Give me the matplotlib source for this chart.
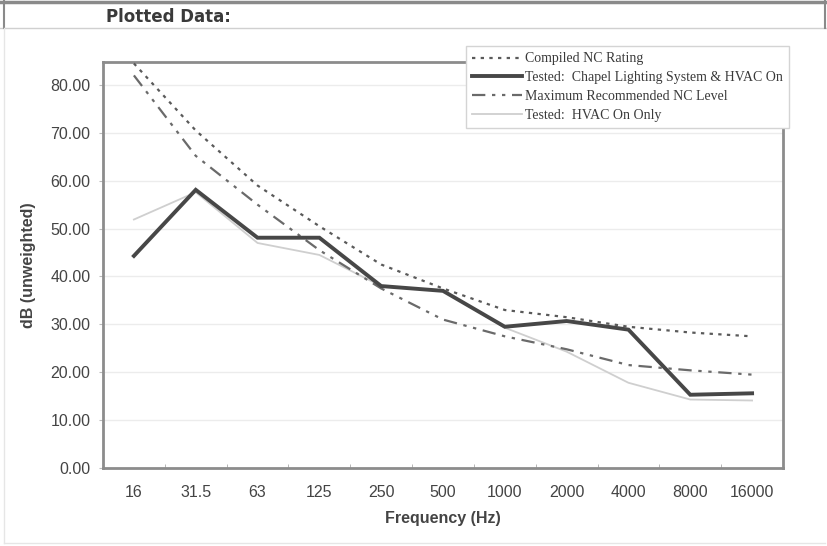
import matplotlib

matplotlib.use("Agg")
import matplotlib.pyplot as plt
from matplotlib.lines import Line2D


FREQ_LABELS = ["16", "31.5", "63", "125", "250", "500", "1000", "2000", "4000", "8000", "16000"]

# dB values
NC_COMPILED = [84.5, 70.5, 59.0, 50.5, 42.5, 37.5, 33.0, 31.5, 29.5, 28.3, 27.5]
CHAPEL_HVAC = [44.3, 58.1, 48.1, 48.1, 38.0, 37.0, 29.5, 30.7, 28.9, 15.3, 15.6]
NC_MAX = [82.0, 65.2, 55.0, 45.5, 37.5, 31.0, 27.5, 24.8, 21.5, 20.4, 19.5]
HVAC_ONLY = [51.9, 57.6, 47.0, 44.5, 38.0, 37.0, 29.3, 24.3, 17.8, 14.3, 14.1]

Y_TICKS = [0, 10, 20, 30, 40, 50, 60, 70, 80]

W, H = 828, 546


def main():
    fig = plt.figure(figsize=(W / 100, H / 100), dpi=100)
    fig.patch.set_facecolor("white")

    # page decoration around the chart
    fig.add_artist(Line2D([0, 1], [1 - 2 / H, 1 - 2 / H], color="#8a8a8a", lw=2.5))
    fig.add_artist(Line2D([0, 1], [1 - 28 / H, 1 - 28 / H], color="#d0d0d0", lw=1))
    fig.add_artist(Line2D([4 / W, 4 / W], [1 - 28 / H, 1], color="#8a8a8a", lw=1.5))
    fig.add_artist(Line2D([825 / W, 825 / W], [1 - 28 / H, 1], color="#8a8a8a", lw=1.5))
    fig.add_artist(Line2D([4 / W, 4 / W], [3 / H, 1 - 28 / H], color="#e6e6e6", lw=1))
    fig.add_artist(Line2D([4 / W, 825 / W], [3 / H, 3 / H], color="#e6e6e6", lw=1))
    fig.text(106 / W, 1 - 17 / H, "Plotted Data:", fontsize=12, fontweight="bold",
             color="#3a3a3a", va="center", ha="left", family="DejaVu Sans")

    ax = fig.add_axes([103 / W, 1 - 468 / H, 680 / W, 406 / H])
    x = list(range(len(FREQ_LABELS)))

    ax.plot(x, HVAC_ONLY, color="#cfcfcf", lw=1.3, label="Tested:  HVAC On Only", zorder=2)
    ax.plot(x, NC_MAX, color="#6a6a6a", lw=1.6, dashes=(6, 3, 1.5, 3, 1.5, 3),
            label="Maximum Recommended NC Level", zorder=3)
    ax.plot(x, NC_COMPILED, color="#5a5a5a", lw=1.6, dashes=(1.5, 2.4),
            label="Compiled NC Rating", zorder=3)
    ax.plot(x, CHAPEL_HVAC, color="#474747", lw=2.8, solid_joinstyle="miter",
            label="Tested:  Chapel Lighting System & HVAC On", zorder=4)

    ax.set_xlim(-0.5, len(FREQ_LABELS) - 0.5)
    ax.set_ylim(0, 84.8)
    ax.set_xticks(x)
    ax.set_xticklabels(FREQ_LABELS)
    ax.set_yticks(Y_TICKS)
    ax.set_yticklabels([f"{v:.2f}" for v in Y_TICKS])
    ax.set_xticks([i + 0.5 for i in x[:-1]], minor=True)
    ax.tick_params(axis="x", which="major", length=0, pad=12, labelsize=11.5, labelcolor="#444444")
    ax.tick_params(axis="x", which="minor", length=3, color="#aaaaaa", direction="in")
    ax.tick_params(axis="y", length=3, color="#bbbbbb", pad=6, labelsize=11.5, labelcolor="#444444")
    for lab in ax.get_xticklabels() + ax.get_yticklabels():
        lab.set_family("Liberation Sans")

    ax.grid(axis="y", color="#ececec", lw=1)
    ax.set_axisbelow(True)
    for side, spine in ax.spines.items():
        spine.set_color("#8c8c8c")
        spine.set_linewidth(2)

    ax.set_xlabel("Frequency (Hz)", fontsize=11.5, fontweight="bold", color="#444444",
                  family="Liberation Sans", labelpad=8)
    ax.set_ylabel("dB (unweighted)", fontsize=11.5, fontweight="bold", color="#444444",
                  family="Liberation Sans", labelpad=10)

    handles, labels = ax.get_legend_handles_labels()
    order = [2, 3, 1, 0]
    leg = fig.legend([handles[i] for i in order], [labels[i] for i in order],
                     loc="upper left", bbox_to_anchor=(462 / W, 1 - 42 / H),
                     frameon=True, fancybox=False, framealpha=1,
                     edgecolor="#d4d4d4", handlelength=3.6,
                     handletextpad=0.2, labelspacing=0.42, borderpad=0.45,
                     borderaxespad=0.3,
                     prop={"family": "Liberation Serif", "size": 10})
    leg.get_frame().set_linewidth(1)
    for t in leg.get_texts():
        t.set_color("#3a3a3a")
    leg.set_zorder(10)

    fig.savefig("out.png", dpi=100, facecolor="white")
    plt.close(fig)


if __name__ == "__main__":
    main()
